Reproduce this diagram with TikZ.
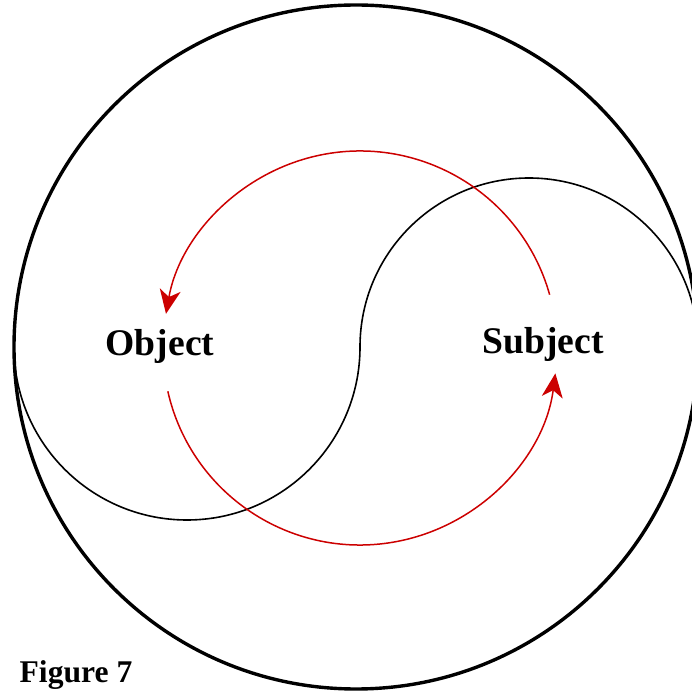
\documentclass[tikz,border=0pt]{standalone}
\usepackage{fontspec}
\setmainfont{Liberation Serif}
\usepackage{tikz}
\usetikzlibrary{arrows.meta}
\definecolor{CycleRed}{HTML}{CC0000}

\begin{document}
\begin{tikzpicture}[x=0.5pt,y=0.5pt,
  label text/.style={font=\fontsize{18.8}{22}\selectfont\bfseries},
  cyclearrow/.style={draw=CycleRed, line width=0.75pt, -{Stealth[length=12pt,width=10.5pt,inset=3.5pt]}}]
  \useasboundingbox (0,0) rectangle (692,692);
  % outer circle
  \coordinate (centre) at (356,345);
  \draw[line width=1.7pt] (centre) circle[radius=342];
  % s-shaped divider
  \coordinate (divstart) at (14,345);
  \draw[line width=0.8pt] (divstart) arc[start angle=180,end angle=360,radius=173]
     arc[start angle=180,end angle=0,radius=169];
  % labels
  \node[label text] (object) at (160,346) {Object};
  \node[label text] (subject) at (543,348) {Subject};
  \node[font=\fontsize{15.8}{18}\selectfont\bfseries] (fig) at (76,17) {Figure 7};
  % red cycle
  \coordinate (hub) at (360,344);
  \draw[cyclearrow] ([shift={(15.7:197)}]hub) arc[start angle=15.7,end angle=170,radius=197];
  \draw[cyclearrow] ([shift={(192.7:197)}]hub) arc[start angle=192.7,end angle=352.6,radius=197];
\end{tikzpicture}
\end{document}
